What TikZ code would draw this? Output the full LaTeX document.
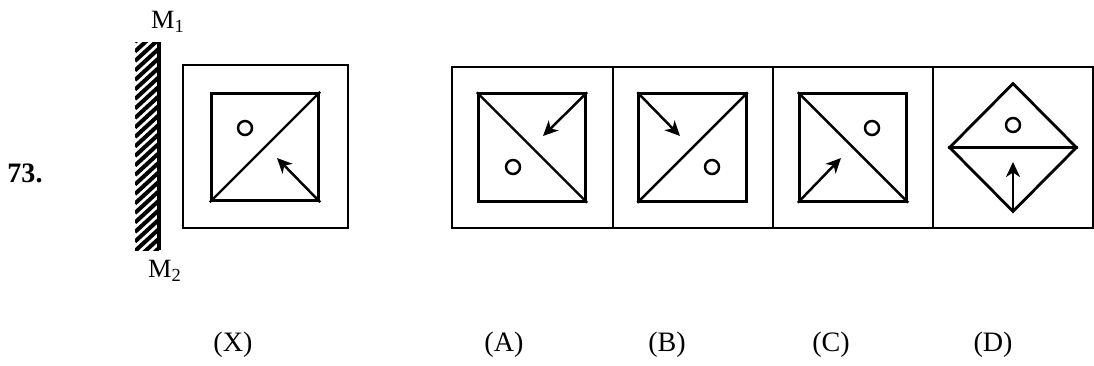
\documentclass[tikz,border=0pt]{standalone}
\usepackage{fontspec}
\setmainfont{Liberation Serif}
\usetikzlibrary{arrows.meta, positioning, shapes.geometric}

\begin{document}
\begin{tikzpicture}[
    x=0.02cm, y=-0.02cm,
    frame/.style={rectangle, draw, line width=1.6pt, inner sep=0pt, minimum width=#1, minimum height=3.22cm},
    inner/.style={rectangle, draw, line width=1.6pt, inner sep=0pt, minimum size=2.15cm},
    cut/.style={line width=1.4pt},
    dot/.style={circle, draw, line width=1.4pt, inner sep=0pt, minimum size=0.28cm},
    pointer/.style={-{Stealth[length=3mm, width=2.8mm, inset=0.9mm]}, line width=1.4pt},
    tag/.style={font=\fontsize{16}{18}\selectfont},
]
    \useasboundingbox (0,0) rectangle (1094,365);

    % Question number
    \node[tag, font=\fontsize{16}{18}\selectfont\bfseries] (qno) at (25,173) {73.};

    % Mirror
    \coordinate (mtop) at (159,42);
    \coordinate (mbot) at (159,250);
    \begin{scope}
        \clip (135,42) rectangle (159,250);
        \foreach \y in {42,51.5,...,290}
            \draw[line width=2.3pt] (135,\y) -- (159,\y-22);
    \end{scope}
    \draw[line width=1.8pt] (mtop) -- (mbot);
    \node[font=\fontsize{15}{17}\selectfont] (m1) at (168,22) {M\textsubscript{1}};
    \node[font=\fontsize{15}{17}\selectfont] (m2) at (165,271) {M\textsubscript{2}};

    % Question figure (X)
    \node[frame=3.3cm, minimum height=3.26cm] (bx) at (265.5,146.5) {};
    \node[inner] (ix) at (265,147) {};
    \draw[cut] (ix.south west) -- (ix.north east);
    \node[dot] (cx) at (245,128) {};
    \coordinate (tx) at (277,158);
    \draw[pointer] (ix.south east) -- (tx);

    % Answer figures
    \node[frame=3.22cm] (ba) at (532.5,147.5) {};
    \node[frame=3.2cm] (bb) at (693,147.5) {};
    \node[frame=3.2cm] (bc) at (853,147.5) {};
    \node[frame=3.2cm] (bd) at (1013,147.5) {};

    % (A)
    \node[inner] (ia) at (532,147.5) {};
    \draw[cut] (ia.north west) -- (ia.south east);
    \node[dot] (ca) at (513,167) {};
    \coordinate (ta) at (543,136);
    \draw[pointer] (ia.north east) -- (ta);

    % (B)
    \node[inner] (ib) at (692.5,147.5) {};
    \draw[cut] (ib.south west) -- (ib.north east);
    \node[dot] (cb) at (712,167) {};
    \coordinate (tb) at (680,136);
    \draw[pointer] (ib.north west) -- (tb);

    % (C)
    \node[inner] (ic) at (853,147.5) {};
    \draw[cut] (ic.north west) -- (ic.south east);
    \node[dot] (cc) at (872,128) {};
    \coordinate (tc) at (841,158);
    \draw[pointer] (ic.south west) -- (tc);

    % (D)
    \node[diamond, draw, line width=1.6pt, inner sep=0pt, minimum width=2.56cm, minimum height=2.58cm] (id) at (1013,147.5) {};
    \draw[cut] (id.west) -- (id.east);
    \node[dot] (cd) at (1013,125) {};
    \coordinate (td) at (1013,162);
    \draw[pointer] (id.south) -- (td);

    % Labels
    \node[tag] (lx) at (233,345) {(X)};
    \node[tag] (la) at (504,345) {(A)};
    \node[tag] (lb) at (667,345) {(B)};
    \node[tag] (lc) at (831,345) {(C)};
    \node[tag] (ld) at (993,345) {(D)};

\end{tikzpicture}
\end{document}
